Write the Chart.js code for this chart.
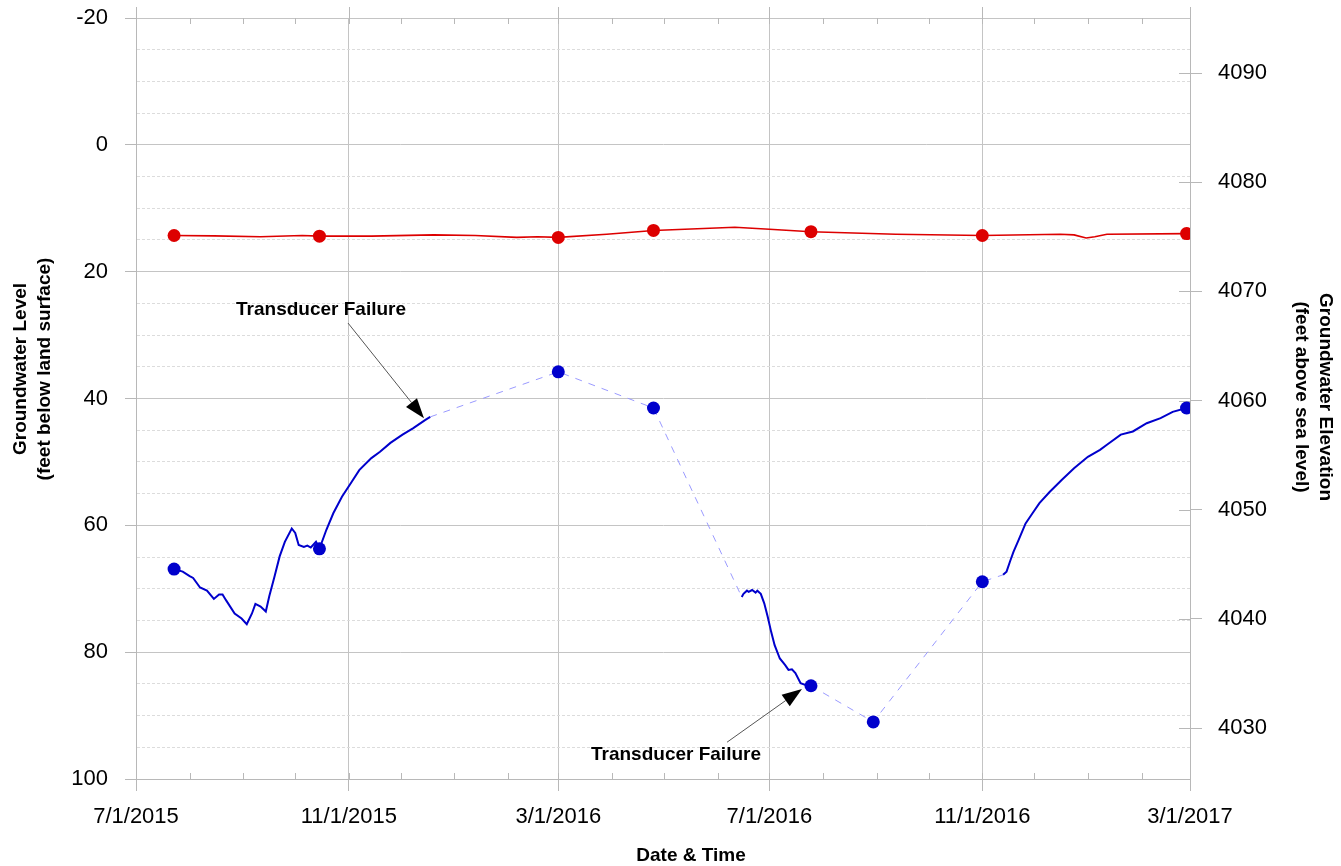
<!DOCTYPE html>
<html>
<head>
<meta charset="utf-8">
<title>Groundwater Level</title>
<script src="https://cdn.jsdelivr.net/npm/chart.js@4.4.1/dist/chart.umd.min.js"></script>
<style>
  html, body { margin: 0; padding: 0; background: #fff; }
  #wrap { width: 1341px; height: 866px; }
</style>
</head>
<body>
<div id="wrap"><canvas id="grafico"></canvas></div>
<script>
// Dias desde 7/1/2015
const INICIO = Date.UTC(2015, 6, 1);
function dia(iso) { return (Date.parse(iso) - INICIO) / 86400000; }

// Eje X
const fechasEje = ['2015-07-01', '2015-11-01', '2016-03-01', '2016-07-01', '2016-11-01', '2017-03-01'];
const etiquetasEje = ['7/1/2015', '11/1/2015', '3/1/2016', '7/1/2016', '11/1/2016', '3/1/2017'];
const ticksDer = [4030, 4040, 4050, 4060, 4070, 4080, 4090];

// Transductor (linea azul continua), por tramos
const tramo1Fechas = ['2015-07-23', '2015-07-28', '2015-08-01', '2015-08-03', '2015-08-07', '2015-08-11', '2015-08-15',
  '2015-08-18', '2015-08-20', '2015-08-22', '2015-08-27', '2015-08-31', '2015-09-03', '2015-09-06', '2015-09-08',
  '2015-09-11', '2015-09-14', '2015-09-16', '2015-09-19', '2015-09-22', '2015-09-25', '2015-09-29', '2015-10-01',
  '2015-10-03', '2015-10-06', '2015-10-08', '2015-10-10', '2015-10-13', '2015-10-15', '2015-10-19', '2015-10-23',
  '2015-10-28', '2015-11-02', '2015-11-07', '2015-11-14', '2015-11-19', '2015-11-25', '2015-12-02', '2015-12-08',
  '2015-12-15', '2015-12-18'];
const tramo1Nivel = [66.9, 67.3, 68.0, 68.3, 69.8, 70.3, 71.6,
  70.9, 70.9, 71.8, 73.9, 74.7, 75.6, 73.9, 72.4,
  72.8, 73.6, 71.2, 68.1, 64.9, 62.6, 60.5, 61.2,
  63.1, 63.4, 63.2, 63.5, 62.6, 63.7, 60.7, 58.1,
  55.5, 53.4, 51.3, 49.4, 48.4, 47.0, 45.7, 44.7,
  43.4, 42.9];

const tramo2Fechas = ['2016-06-15', '2016-06-16', '2016-06-18', '2016-06-19', '2016-06-21', '2016-06-23', '2016-06-24',
  '2016-06-26', '2016-06-28', '2016-06-30', '2016-07-02', '2016-07-04', '2016-07-07', '2016-07-10', '2016-07-12',
  '2016-07-14', '2016-07-16', '2016-07-19', '2016-07-22', '2016-07-25'];
const tramo2Nivel = [71.3, 70.8, 70.3, 70.5, 70.2, 70.6, 70.3,
  70.8, 72.3, 74.4, 76.8, 78.9, 81.0, 82.0, 82.8,
  82.7, 83.3, 84.9, 85.2, 85.3];

const tramo3Fechas = ['2016-11-13', '2016-11-15', '2016-11-17', '2016-11-19', '2016-11-22', '2016-11-26', '2016-11-30',
  '2016-12-04', '2016-12-10', '2016-12-17', '2016-12-24', '2017-01-01', '2017-01-08', '2017-01-12', '2017-01-20',
  '2017-01-27', '2017-02-04', '2017-02-12', '2017-02-19', '2017-02-27'];
const tramo3Nivel = [67.8, 67.3, 65.7, 64.2, 62.3, 59.7, 58.1,
  56.5, 54.7, 52.8, 51.0, 49.2, 48.1, 47.3, 45.7,
  45.2, 43.9, 43.1, 42.1, 41.5];

// Mediciones manuales (pozo azul)
const manualAzulFechas = ['2015-07-23', '2015-10-15', '2016-03-01', '2016-04-25', '2016-07-25', '2016-08-30', '2016-11-01', '2017-02-27'];
const manualAzulNivel = [66.9, 63.7, 35.8, 41.5, 85.3, 91.0, 68.9, 41.5];

// Pozo rojo
const rojoFechas = ['2015-07-23', '2015-08-15', '2015-09-11', '2015-10-05', '2015-10-15', '2015-11-14', '2015-12-20',
  '2016-01-13', '2016-02-06', '2016-02-18', '2016-03-01', '2016-03-29', '2016-04-25', '2016-06-11', '2016-07-01',
  '2016-07-25', '2016-09-12', '2016-11-01', '2016-12-16', '2016-12-24', '2016-12-31', '2017-01-05', '2017-01-12',
  '2017-02-27'];
const rojoNivel = [14.3, 14.35, 14.5, 14.3, 14.4, 14.4, 14.2,
  14.3, 14.6, 14.5, 14.6, 14.1, 13.5, 13.0, 13.3,
  13.7, 14.1, 14.3, 14.1, 14.2, 14.7, 14.5, 14.1,
  14.0];
const manualRojoFechas = ['2015-07-23', '2015-10-15', '2016-03-01', '2016-04-25', '2016-07-25', '2016-11-01', '2017-02-27'];
const manualRojoNivel = [14.3, 14.4, 14.6, 13.5, 13.7, 14.3, 14.0];

// Notas (en dias y pies)
const notas = [
  { texto: 'Transducer Failure', tx: 106.9, ty: 26.0, ax: 122.5, ay: 28.1, px: 166.4, py: 43.1 },
  { texto: 'Transducer Failure', tx: 312.0, ty: 96.2, ax: 341.5, ay: 94.2, px: 384.8, py: 85.8 }
];

function puntos(fechas, niveles) {
  return fechas.map((f, i) => ({ x: dia(f), y: niveles[i] }));
}

const t1 = puntos(tramo1Fechas, tramo1Nivel);
const t2 = puntos(tramo2Fechas, tramo2Nivel);
const t3 = puntos(tramo3Fechas, tramo3Nivel);
const manual = puntos(manualAzulFechas, manualAzulNivel);
// lineas punteadas entre fin de tramo, mediciones y siguiente tramo
const punteada1 = [t1[t1.length - 1], manual[2], manual[3], t2[0]];
const punteada2 = [manual[4], manual[5], manual[6], t3[0]];

// meses para marcas menores
const meses = [];
for (let a = 2015, m = 6; ; m++) {
  if (m > 11) { m = 0; a++; }
  meses.push(Date.UTC(a, m, 1));
  if (a === 2017 && m === 2) break;
}

const FUENTE = '"Liberation Sans", Arial, sans-serif';

function flecha(ctx, x1, y1, x2, y2) {
  const ang = Math.atan2(y2 - y1, x2 - x1);
  const largo = 20, ancho = 7;
  const bx = x2 - largo * Math.cos(ang), by = y2 - largo * Math.sin(ang);
  ctx.strokeStyle = '#555';
  ctx.lineWidth = 1;
  ctx.beginPath();
  ctx.moveTo(x1, y1);
  ctx.lineTo(bx, by);
  ctx.stroke();
  ctx.fillStyle = '#000';
  ctx.beginPath();
  ctx.moveTo(x2, y2);
  ctx.lineTo(bx + ancho * Math.sin(ang), by - ancho * Math.cos(ang));
  ctx.lineTo(bx - ancho * Math.sin(ang), by + ancho * Math.cos(ang));
  ctx.closePath();
  ctx.fill();
}

const extras = {
  id: 'extras',
  beforeDatasetsDraw(chart) {
    const { ctx, chartArea: a, scales: { x, y2 } } = chart;
    ctx.save();
    ctx.strokeStyle = '#b8b8b8';
    ctx.lineWidth = 1;
    ctx.beginPath();
    meses.forEach(t => {
      const px = Math.round(x.getPixelForValue((t - INICIO) / 86400000)) + 0.5;
      ctx.moveTo(px, a.bottom); ctx.lineTo(px, a.bottom - 6);
      ctx.moveTo(px, a.top); ctx.lineTo(px, a.top + 6);
    });
    fechasEje.forEach(f => {
      const px = Math.round(x.getPixelForValue(dia(f))) + 0.5;
      ctx.moveTo(px, a.top - 11); ctx.lineTo(px, a.top);
    });
    ticksDer.forEach(v => {
      const py = Math.round(y2.getPixelForValue(v)) + 0.5;
      ctx.moveTo(a.right - 11, py); ctx.lineTo(a.right, py);
    });
    ctx.stroke();
    ctx.restore();
  },
  afterDraw(chart) {
    const { ctx, scales: { x, y } } = chart;
    ctx.save();
    ctx.fillStyle = '#000';
    ctx.font = 'bold 19px ' + FUENTE;
    ctx.textAlign = 'center';
    ctx.textBaseline = 'middle';

    // titulos de ejes
    ctx.save();
    ctx.translate(21, 369);
    ctx.rotate(-Math.PI / 2);
    ctx.fillText('Groundwater Level', 0, 0);
    ctx.fillText('(feet below land surface)', 0, 24);
    ctx.restore();

    ctx.save();
    ctx.translate(1325, 397);
    ctx.rotate(Math.PI / 2);
    ctx.fillText('Groundwater Elevation', 0, 0);
    ctx.fillText('(feet above sea level)', 0, 24);
    ctx.restore();

    ctx.fillText('Date & Time', 691, 856);

    // notas con flecha
    notas.forEach(n => {
      ctx.fillStyle = '#000';
      ctx.fillText(n.texto, x.getPixelForValue(n.tx), y.getPixelForValue(n.ty));
      flecha(ctx, x.getPixelForValue(n.ax), y.getPixelForValue(n.ay),
        x.getPixelForValue(n.px), y.getPixelForValue(n.py));
    });
    ctx.restore();
  }
};

const esMayor = c => c.tick && c.tick.value % 20 === 0;

// ancho fijo de los ejes verticales, sin relleno extra arriba/abajo
function fijarVertical(ancho) {
  return s => {
    s.width = ancho;
    s.paddingTop = 0;
    s.paddingBottom = 0;
  };
}

new Chart(document.getElementById('grafico'), {
  type: 'line',
  data: {
    datasets: [
      {
        data: manual, showLine: false, pointRadius: 6.5, pointBorderWidth: 0,
        pointBackgroundColor: '#0000cc', yAxisID: 'y'
      },
      {
        data: puntos(manualRojoFechas, manualRojoNivel), showLine: false, pointRadius: 6.5, pointBorderWidth: 0,
        pointBackgroundColor: '#dd0000', yAxisID: 'y'
      },
      { data: t1, borderColor: '#0000cc', borderWidth: 2, pointRadius: 0, yAxisID: 'y' },
      { data: t2, borderColor: '#0000cc', borderWidth: 2, pointRadius: 0, yAxisID: 'y' },
      { data: t3, borderColor: '#0000cc', borderWidth: 2, pointRadius: 0, yAxisID: 'y' },
      { data: puntos(rojoFechas, rojoNivel), borderColor: '#dd0000', borderWidth: 1.6, pointRadius: 0, yAxisID: 'y' },
      { data: punteada1, borderColor: '#9a9aff', borderWidth: 1, borderDash: [7, 7], pointRadius: 0, yAxisID: 'y' },
      { data: punteada2, borderColor: '#9a9aff', borderWidth: 1, borderDash: [7, 7], pointRadius: 0, yAxisID: 'y' }
    ]
  },
  options: {
    responsive: true,
    maintainAspectRatio: false,
    animation: false,
    layout: { padding: { top: 18, left: 0, right: 0, bottom: 0 } },
    plugins: {
      legend: { display: false },
      tooltip: { enabled: false }
    },
    scales: {
      x: {
        type: 'linear',
        min: 0,
        max: dia('2017-03-01'),
        afterBuildTicks: s => { s.ticks = fechasEje.map(f => ({ value: dia(f) })); },
        afterFit: s => { s.height = 87; },
        ticks: {
          autoSkip: false,
          maxRotation: 0,
          padding: 13,
          color: '#000',
          font: { family: FUENTE, size: 22 },
          callback: (v, i) => etiquetasEje[i]
        },
        grid: { color: '#c4c4c4', tickColor: '#b8b8b8', tickLength: 12 },
        border: { color: '#b8b8b8' }
      },
      y: {
        position: 'left',
        reverse: true,
        min: -20,
        max: 100,
        afterFit: fijarVertical(136),
        ticks: {
          stepSize: 5,
          autoSkip: false,
          padding: 17,
          color: '#000',
          font: { family: FUENTE, size: 22 },
          callback: v => (v % 20 === 0 ? String(v) : '')
        },
        grid: {
          color: c => (esMayor(c) ? '#c4c4c4' : '#dcdcdc'),
          tickColor: c => (esMayor(c) ? '#b8b8b8' : 'rgba(0,0,0,0)'),
          tickLength: 11
        },
        border: { color: '#b8b8b8', dash: c => (c.tick && !esMayor(c) ? [3, 2] : []) }
      },
      y2: {
        position: 'right',
        min: 4025.33,
        max: 4095.04,
        afterBuildTicks: s => { s.ticks = ticksDer.map(v => ({ value: v })); },
        afterFit: fijarVertical(151),
        ticks: {
          autoSkip: false,
          padding: 16,
          color: '#000',
          font: { family: FUENTE, size: 22 },
          callback: v => String(v)
        },
        grid: { drawOnChartArea: false, tickColor: '#b8b8b8', tickLength: 12 },
        border: { color: '#b8b8b8' }
      }
    }
  },
  plugins: [extras]
});
</script>
</body>
</html>
